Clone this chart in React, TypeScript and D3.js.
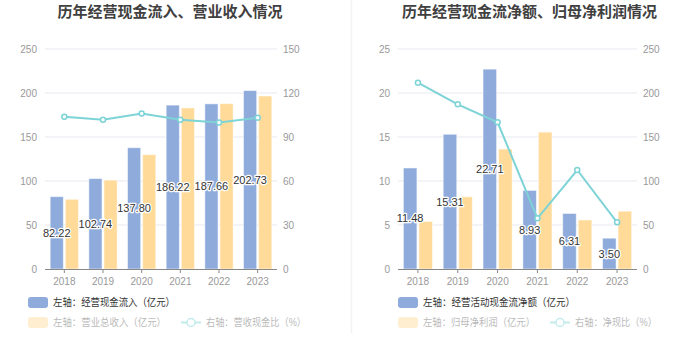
import React from 'react';
import * as d3 from 'd3';

const years = ['2018', '2019', '2020', '2021', '2022', '2023'];
// Left chart
const cashInflow = [82.22, 102.74, 137.8, 186.22, 187.66, 202.73];
const revenue = [79.2, 101.0, 129.9, 183.0, 187.9, 196.6];
const cashRevenueRatio = [103.8, 101.7, 106.0, 101.8, 99.9, 103.1];
const leftTicksA = [0, 50, 100, 150, 200, 250];
const rightTicksA = [0, 30, 60, 90, 120, 150];
// Right chart
const netCashFlow = [11.48, 15.31, 22.71, 8.93, 6.31, 3.5];
const netProfit = [5.4, 8.2, 13.63, 15.55, 5.57, 6.57];
const netCashRatio = [211.7, 187.1, 166.7, 57.6, 112.5, 53.0];
const leftTicksB = [0, 5, 10, 15, 20, 25];
const rightTicksB = [0, 50, 100, 150, 200, 250];

const BLUE = '#8eabdb';
const YELLOW = '#ffda98';
const CYAN = '#7dd3d6';
const FONT = '"Liberation Sans", Arial, "Noto Sans CJK SC", sans-serif';

type PanelProps = {
  title: string;
  titleX: number;
  x0: number;
  x1: number;
  bars1: number[];
  bars2: number[];
  line: number[];
  leftTicks: number[];
  rightTicks: number[];
  legend1: string;
  legend2: string;
  legend3: string;
  legW: number[];
  legRectX: number;
  legLineX: number;
};

function Panel(p: PanelProps) {
  const top = 49;
  const bottom = 269;
  const x = d3.scaleBand<string>().domain(years).range([p.x0, p.x1]);
  const yL = d3.scaleLinear().domain([0, p.leftTicks[p.leftTicks.length - 1]]).range([bottom, top]);
  const yR = d3.scaleLinear().domain([0, p.rightTicks[p.rightTicks.length - 1]]).range([bottom, top]);
  const bw = x.bandwidth() * 0.34;
  const gap = 1;
  const cx = (y: string) => (x(y) as number) + x.bandwidth() / 2;
  const linePath = d3
    .line<number>()
    .x((_, i) => cx(years[i]))
    .y((d) => yR(d))(p.line) as string;

  return (
    <g>
      <text x={p.titleX} y={17} textAnchor="middle" fontSize={15} fontWeight="bold" fill="#404040" fontFamily={FONT}>
        {p.title}
      </text>
      {p.leftTicks.map((t) => (
        <g key={'g' + t}>
          {t > 0 && <line x1={p.x0} x2={p.x1} y1={yL(t)} y2={yL(t)} stroke="#e6e9f0" strokeWidth={1} />}
          <text x={p.x0 - 8} y={yL(t) + 3.5} textAnchor="end" fontSize={10} fill="#999" fontFamily={FONT}>
            {t}
          </text>
        </g>
      ))}
      {p.rightTicks.map((t) => (
        <text key={'r' + t} x={p.x1 + 6} y={yR(t) + 3.5} fontSize={10} fill="#999" fontFamily={FONT}>
          {t}
        </text>
      ))}
      {years.map((yr, i) => (
        <g key={yr}>
          <rect
            x={cx(yr) - gap - bw}
            y={yL(p.bars1[i])}
            width={bw}
            height={bottom - yL(p.bars1[i])}
            fill={BLUE}
            stroke="#ffffff"
            strokeOpacity={0.5}
            strokeWidth={1}
          />
          <rect
            x={cx(yr) + gap}
            y={yL(p.bars2[i])}
            width={bw}
            height={bottom - yL(p.bars2[i])}
            fill={YELLOW}
            stroke="#ffffff"
            strokeOpacity={0.5}
            strokeWidth={1}
          />
        </g>
      ))}
      <line x1={p.x0} x2={p.x1} y1={bottom + 0.5} y2={bottom + 0.5} stroke="#888" strokeWidth={1} />
      {years.map((yr) => (
        <g key={'xt' + yr}>
          <line x1={cx(yr)} x2={cx(yr)} y1={bottom} y2={bottom + 4} stroke="#888" />
          <text x={cx(yr)} y={bottom + 16} textAnchor="middle" fontSize={10} fill="#999" fontFamily={FONT}>
            {yr}
          </text>
        </g>
      ))}
      <path d={linePath} fill="none" stroke={CYAN} strokeWidth={2} />
      {p.line.map((v, i) => (
        <circle key={'c' + i} cx={cx(years[i])} cy={yR(v)} r={2.5} fill="#fff" stroke={CYAN} strokeWidth={1.5} />
      ))}
      {years.map((yr, i) => (
        <text
          key={'lb' + yr}
          x={cx(yr) - gap - bw / 2}
          y={(yL(p.bars1[i]) + bottom) / 2 + 4}
          textAnchor="middle"
          fontSize={11}
          fill="#333"
          stroke="#fff"
          strokeWidth={2.5}
          paintOrder="stroke"
          strokeLinejoin="round"
          fontFamily={FONT}
        >
          {p.bars1[i].toFixed(2)}
        </text>
      ))}
      {/* Legend */}
      <rect x={p.legRectX} y={297} width={20} height={11} rx={3} fill={BLUE} />
      <text
        x={p.legRectX + 25}
        y={306}
        fontSize={10.5}
        fill="#333"
        fontFamily={FONT}
        textLength={p.legW[0]}
        lengthAdjust="spacingAndGlyphs"
      >
        {p.legend1}
      </text>
      <g opacity={0.45}>
        <rect x={p.legRectX} y={317} width={20} height={11} rx={3} fill={YELLOW} />
        <text
          x={p.legRectX + 25}
          y={326}
          fontSize={10.5}
          fill="#666"
          fontFamily={FONT}
          textLength={p.legW[1]}
          lengthAdjust="spacingAndGlyphs"
        >
          {p.legend2}
        </text>
        <line x1={p.legLineX} x2={p.legLineX + 20} y1={322.5} y2={322.5} stroke={CYAN} strokeWidth={2} />
        <circle cx={p.legLineX + 10} cy={322.5} r={4} fill="#fff" stroke={CYAN} strokeWidth={1.5} />
        <text
          x={p.legLineX + 25}
          y={326}
          fontSize={10.5}
          fill="#666"
          fontFamily={FONT}
          textLength={p.legW[2]}
          lengthAdjust="spacingAndGlyphs"
        >
          {p.legend3}
        </text>
      </g>
    </g>
  );
}

export default function App() {
  return (
    <svg
      width={700}
      height={360}
      style={{ position: 'absolute', left: 0, top: 0, background: '#fff' }}
    >
      <rect width={700} height={360} fill="#fff" />
      <line x1={351.5} x2={351.5} y1={0} y2={333} stroke="#f2f2f2" strokeWidth={1.5} />
      <Panel
        title="历年经营现金流入、营业收入情况"
        titleX={170}
        x0={45}
        x1={277}
        bars1={cashInflow}
        bars2={revenue}
        line={cashRevenueRatio}
        leftTicks={leftTicksA}
        rightTicks={rightTicksA}
        legend1="左轴：经营现金流入（亿元）"
        legend2="左轴：营业总收入（亿元）"
        legend3="右轴：营收现金比（%）"
        legW={[122, 113, 100]}
        legRectX={28}
        legLineX={181}
      />
      <Panel
        title="历年经营现金流净额、归母净利润情况"
        titleX={529.5}
        x0={398}
        x1={637}
        bars1={netCashFlow}
        bars2={netProfit}
        line={netCashRatio}
        leftTicks={leftTicksB}
        rightTicks={rightTicksB}
        legend1="左轴：经营活动现金流净额（亿元）"
        legend2="左轴：归母净利润（亿元）"
        legend3="右轴：净现比（%）"
        legW={[152, 112, 82]}
        legRectX={398}
        legLineX={550}
      />
    </svg>
  );
}
